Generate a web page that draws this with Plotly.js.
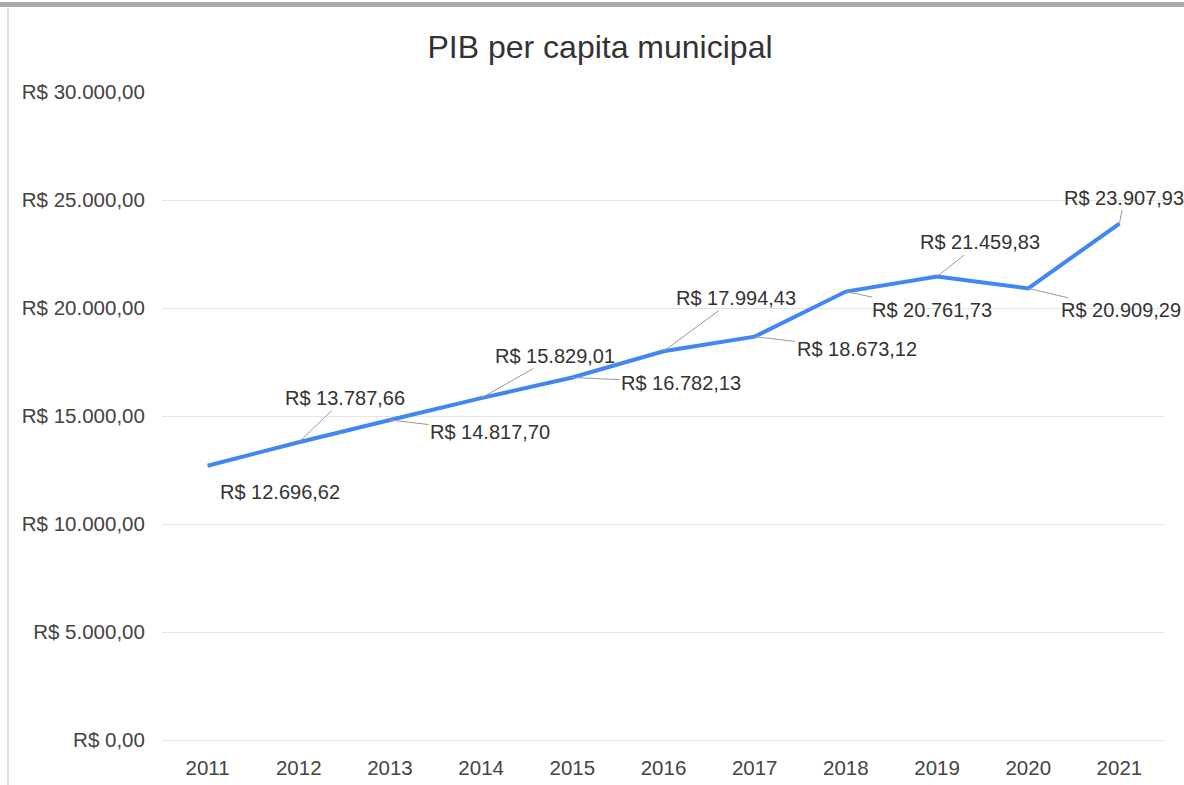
<!DOCTYPE html>
<html>
<head>
<meta charset="utf-8">
<script src="https://cdn.plot.ly/plotly-3.0.1.min.js"></script>
<style>
  html, body { margin: 0; padding: 0; background: #fff; }
  #graph { width: 1184px; height: 785px; }
</style>
</head>
<body>
<div id="graph"></div>
<script>
var anos = ['2011', '2012', '2013', '2014', '2015', '2016', '2017', '2018', '2019', '2020', '2021'];
var pib = [12696.62, 13787.66, 14817.70, 15829.01, 16782.13, 17994.43, 18673.12, 20761.73, 21459.83, 20909.29, 23907.93];

// where each label sits relative to its point (px)
var labelDx = [72, 46, 100, 74, 109, 72, 102, 86, 43, 93, 5];
var labelDy = [26, -44, 12, -42, 5, -53, 12, 18, -34, 22, -26];

function brl(v) {
  var parts = v.toFixed(2).split('.');
  var inteiro = parts[0].replace(/\B(?=(\d{3})+(?!\d))/g, '.');
  return 'R&#36; ' + inteiro + ',' + parts[1];
}

var trace1 = {
  x: anos,
  y: pib,
  mode: 'lines',
  line: { color: '#4285f4', width: 4 },
  hoverinfo: 'skip'
};

// annotation x on a category axis: a string like '2011' gets read as an index,
// so pass the category index instead
var annotations = anos.map(function (ano, i) {
  return {
    x: i,
    y: pib[i],
    xref: 'x',
    yref: 'y',
    text: brl(pib[i]),
    showarrow: i != 0,
    arrowhead: 0,
    arrowwidth: 1,
    arrowcolor: '#9a9a9a',
    ax: labelDx[i],
    ay: labelDy[i],
    xshift: i == 0 ? labelDx[i] : 0,
    yshift: i == 0 ? -labelDy[i] : 0,
    font: { size: 20, color: '#333' }
  };
});

var layout = {
  width: 1184,
  height: 785,
  margin: { l: 162, r: 19, t: 92, b: 45 },
  paper_bgcolor: '#fff',
  plot_bgcolor: '#fff',
  font: { family: 'Liberation Sans, Arial, sans-serif', size: 20, color: '#444' },
  separators: ',.',
  showlegend: false,
  title: {
    text: 'PIB per capita municipal',
    x: 600 / 1184,
    xanchor: 'center',
    y: 1 - 47 / 785,
    yanchor: 'middle',
    font: { size: 32, color: '#333' }
  },
  xaxis: {
    type: 'category',
    range: [-0.5, 10.5],
    showgrid: false,
    zeroline: false,
    showline: false,
    ticks: 'outside',
    ticklen: 9,
    tickcolor: 'rgba(0,0,0,0)',
    tickfont: { size: 20.5, color: '#444' }
  },
  yaxis: {
    range: [0, 30000],
    dtick: 5000,
    tickprefix: 'R$ ',
    tickformat: ',.2f',
    showgrid: true,
    gridcolor: '#e6e6e6',
    zeroline: true,
    zerolinecolor: '#e6e6e6',
    showline: false,
    ticks: 'outside',
    ticklen: 12,
    tickcolor: 'rgba(0,0,0,0)',
    tickfont: { size: 20.5, color: '#444' }
  },
  annotations: annotations,
  shapes: [
    { type: 'rect', xref: 'paper', yref: 'paper', x0: -162 / 1003, x1: 1 + 19 / 1003, y0: 1 + 85 / 648, y1: 1 + 90 / 648,
      fillcolor: '#aaaaaa', line: { width: 0 } },
    { type: 'line', xref: 'paper', yref: 'paper', x0: -154 / 1003, x1: -154 / 1003, y0: -45 / 648, y1: 1 + 84 / 648,
      line: { color: '#d0d0d0', width: 1.5 } }
  ]
};

Plotly.newPlot('graph', [trace1], layout, { displayModeBar: false, staticPlot: true });
</script>
</body>
</html>
